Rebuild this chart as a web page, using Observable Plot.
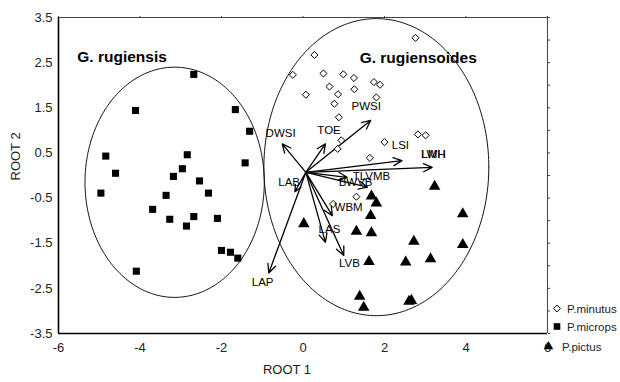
<!DOCTYPE html>
<html><head><meta charset="utf-8">
<script src="https://cdn.jsdelivr.net/npm/d3@7"></script>
<script src="https://cdn.jsdelivr.net/npm/@observablehq/plot@0.6"></script>
<style>
body{margin:0;background:#fff;font-family:"Liberation Sans",Arial,sans-serif;}
#wrap{position:relative;width:620px;height:382px;}
#legend{position:absolute;left:0;top:0;pointer-events:none;}
</style></head><body><div id="wrap"></div>
<script>
const xTicks = [-6,-4,-2,0,2,4,6];
const yTicks = [-3.5,-2.5,-1.5,-0.5,0.5,1.5,2.5,3.5];
const rightTicks = [-3.5,-3,-2.5,-2,-1.5,-1,-0.5,0,0.5,1,1.5,2,2.5,3,3.5];
const xDomain = [-6,6];
const yDomain = [-3.5,3.5];

// P. minutus (open diamonds)
const minutusX = [2.76,0.28,-0.25,0.50,0.99,1.25,1.74,1.89,0.65,1.26,0.07,0.86,1.80,0.77,0.88,0.94,0.85,2.82,3.01,2.00,1.64,1.31,0.74];
const minutusY = [3.05,2.67,2.23,2.26,2.24,2.16,2.07,2.01,1.97,1.91,1.79,1.80,1.73,1.59,1.29,0.78,0.59,0.91,0.89,0.74,0.39,-0.47,-0.63];
// P. microps (filled squares)
const micropsX = [-2.68,-4.11,-1.66,-1.31,-4.84,-2.84,-1.42,-4.60,-2.96,-3.18,-2.54,-4.96,-3.36,-2.32,-3.69,-3.27,-2.68,-2.86,-2.10,-2.00,-1.78,-1.60,-4.09];
const micropsY = [2.24,1.44,1.46,0.98,0.43,0.46,0.28,0.05,0.15,-0.02,-0.12,-0.39,-0.44,-0.39,-0.75,-0.97,-0.91,-1.12,-0.95,-1.66,-1.70,-1.83,-2.12];
// P. pictus (filled triangles)
const pictusX = [3.23,1.68,1.80,1.66,3.92,0.02,1.31,1.68,2.72,3.92,1.62,2.52,3.13,1.39,1.49,2.60,2.66];
const pictusY = [-0.24,-0.46,-0.61,-0.89,-0.85,-1.07,-1.24,-1.27,-1.46,-1.53,-1.91,-1.92,-1.85,-2.68,-2.92,-2.79,-2.77];

// structure vectors
const vecOrigin = [0.07, 0.07];
const vecNames = ["DWSI","TOE","PWSI","LSI","LMH","TL","BW","WBM","LAS","LVB","LAB","LAP"];
const vecX = [-0.51,0.55,1.66,2.43,3.17,1.08,1.58,0.72,0.55,1.00,-0.20,-0.84];
const vecY = [0.70,0.70,1.22,0.33,0.18,-0.04,-0.26,-0.89,-1.48,-1.77,-0.36,-2.16];
const labelText = ["DWSI","TOE","PWSI","LSI","LMH","LWH","TLVMB","BWVB","WBM","LAS","LVB","LAB","LAP"];
const labelX = [-0.55,0.64,1.55,2.39,3.20,3.20,1.68,1.29,1.12,0.65,1.14,-0.34,-0.99];
const labelY = [0.93,1.01,1.54,0.66,0.48,0.48,-0.02,-0.16,-0.70,-1.20,-1.94,-0.15,-2.37];

// group ellipses
const groupNames = ["G. rugiensis","G. rugiensoides"];
const groupLabelX = [-5.54,1.39];
const groupLabelY = [2.62,2.61];
const ellCX = [-3.15,1.80];
const ellCY = [-0.15,0.185];
const ellRX = [2.20,2.76];
const ellRY = [2.55,3.29];

const species = ["P.minutus","P.microps","P.pictus"];

const mk = (xs, ys) => xs.map((x,i)=>({x, y: ys[i]}));
const minutus = mk(minutusX, minutusY);
const microps = mk(micropsX, micropsY);
const pictus = mk(pictusX, pictusY);
const vectors = vecNames.map((n,i)=>({n, x1: vecOrigin[0], y1: vecOrigin[1], x2: vecX[i], y2: vecY[i]}));
const labels = labelText.map((t,i)=>({t, x: labelX[i], y: labelY[i]}));
const groups = groupNames.map((t,i)=>({t, x: groupLabelX[i], y: groupLabelY[i]}));
const ellipsePts = [];
ellCX.forEach((cx,g)=>{
  for (let k=0;k<=240;k++){
    const a = k/240*2*Math.PI;
    ellipsePts.push({g, x: cx + ellRX[g]*Math.cos(a), y: ellCY[g] + ellRY[g]*Math.sin(a)});
  }
});

const fmt = d => String(d);
const blank = () => "";

const chart = Plot.plot({
  width: 620, height: 382,
  marginLeft: 58, marginTop: 17, marginRight: 73, marginBottom: 49,
  x: {domain: xDomain},
  y: {domain: yDomain},
  style: {fontFamily: "'Liberation Sans', Arial, sans-serif", background: "#fff"},
  marks: [
    Plot.line(ellipsePts, {x:"x", y:"y", z:"g", stroke:"#111", strokeWidth:1, clip:true}),
    Plot.ruleX([xDomain[0]], {stroke:"#000", strokeWidth:1.6}),
    Plot.ruleY([yDomain[0]], {stroke:"#000", strokeWidth:1.6}),
    Plot.ruleX([xDomain[1]], {stroke:"#444", strokeWidth:1}),
    Plot.ruleY([yDomain[1]], {stroke:"#444", strokeWidth:1}),
    Plot.axisX({ticks: xTicks, tickFormat: fmt, tickSize: 0, tickPadding: 9, fontSize: 13, fill:"#222", label: null}),
    Plot.axisY({ticks: yTicks, tickFormat: fmt, tickSize: 0, tickPadding: 6, fontSize: 13, fill:"#222", label: null}),
    Plot.axisY({anchor:"right", ticks: rightTicks, tickFormat: blank, tickSize: 2, stroke:"#444", label: null}),
    Plot.axisX({anchor:"top", ticks: xTicks, tickFormat: blank, tickSize: 2, stroke:"#444", label: null}),
    Plot.text(["ROOT 1"], {frameAnchor:"bottom", dx:-16, dy:40, fontSize:13, fill:"#222"}),
    Plot.text(["ROOT 2"], {frameAnchor:"left", rotate:-90, dx:-43, dy:5, fontSize:13, fill:"#222"}),
    Plot.arrow(vectors, {x1:"x1", y1:"y1", x2:"x2", y2:"y2", stroke:"#000", strokeWidth:1.3, headLength:11, headAngle:50}),
    Plot.dot(minutus, {x:"x", y:"y", symbol:"diamond2", r:3.2, stroke:"#000", fill:"#fff", strokeWidth:1}),
    Plot.dot(microps, {x:"x", y:"y", symbol:"square", r:4, fill:"#000"}),
    Plot.dot(pictus, {x:"x", y:"y", symbol:"triangle", r:4.3, fill:"#000"}),
    Plot.text(labels, {x:"x", y:"y", text:"t", fontSize:11.5, fill:"#000"}),
    Plot.text(groups, {x:"x", y:"y", text:"t", textAnchor:"start", fontSize:15.5, fontWeight:"bold", fill:"#000"})
  ]
});
const wrap = document.getElementById("wrap");
wrap.appendChild(chart);

// legend
const ns = "http://www.w3.org/2000/svg";
const leg = document.createElementNS(ns, "svg");
leg.setAttribute("id","legend");
leg.setAttribute("width","620"); leg.setAttribute("height","382");
const legPos = [[557,308.5,567],[557,326.5,567],[548.5,346.5,562]];
const shapes = [d3.symbol(d3.symbolDiamond2, 30)(), d3.symbol(d3.symbolSquare, 44)(), d3.symbol(d3.symbolTriangle, 40)()];
species.forEach((s,i)=>{
  const [cx,cy,tx] = legPos[i];
  const p = document.createElementNS(ns,"path");
  p.setAttribute("d", shapes[i]);
  p.setAttribute("transform", `translate(${cx},${cy})`);
  if (i===0){ p.setAttribute("fill","#fff"); p.setAttribute("stroke","#000"); p.setAttribute("stroke-width","1"); }
  else p.setAttribute("fill","#000");
  leg.appendChild(p);
  const t = document.createElementNS(ns,"text");
  t.setAttribute("x", tx); t.setAttribute("y", cy+4);
  t.setAttribute("font-size","11.5"); t.setAttribute("fill","#222");
  t.setAttribute("font-family","'Liberation Sans', Arial, sans-serif");
  t.textContent = s;
  leg.appendChild(t);
});
wrap.appendChild(leg);
</script></body></html>
